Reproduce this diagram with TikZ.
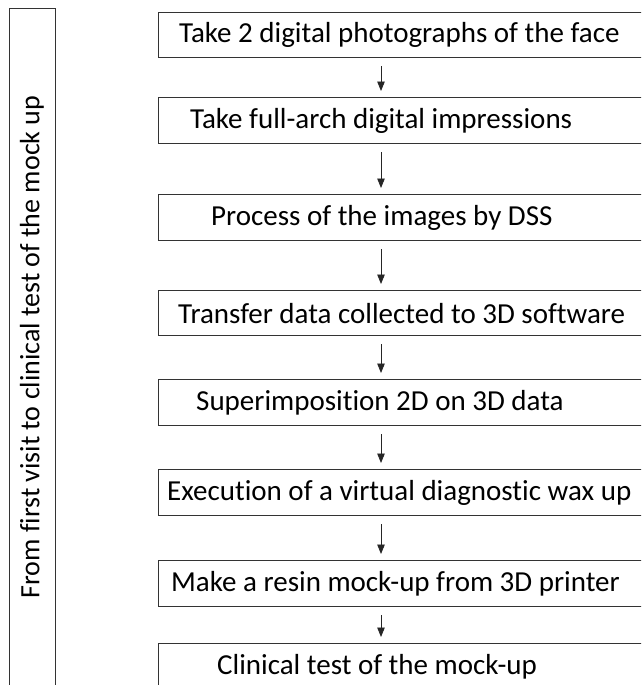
\documentclass[tikz,border=0pt]{standalone}
\usepackage{fontspec}
\setmainfont{Carlito}[Ligatures=NoCommon]
\usetikzlibrary{arrows.meta}
\tikzset{
  stepbox/.style={draw=black!80, line width=1.1pt, minimum width=520pt, anchor=north west, inner sep=0pt},
  steptext/.style={anchor=west, inner sep=0pt, font=\fontsize{29}{33}\selectfont},
  sidetextstyle/.style={inner sep=0pt, font=\fontsize{28}{32}\selectfont},
  flowarrow/.style={draw=black!85, line width=0.9pt, -{Triangle[width=7.5pt,length=9.5pt]}, shorten <=8pt, shorten >=6pt}
}
\begin{document}
\begin{tikzpicture}[x=1pt,y=-1pt]
\useasboundingbox (0,0) rectangle (641,685);
\clip (0,0) rectangle (641,685);
\fill[white] (0,0) rectangle (641,685);
% side box
\node[stepbox, minimum width=46pt, minimum height=700pt] (side) at (9,8) {};
\node[sidetextstyle, anchor=center, rotate=90] (sidetext) at (32,347) {From first visit to clinical test of the mock up};
% step boxes
\node[stepbox, minimum height=45pt] (b1) at (158,12) {};
\node[stepbox, minimum height=46pt] (b2) at (158,97) {};
\node[stepbox, minimum height=46pt] (b3) at (158,194) {};
\node[stepbox, minimum height=45pt] (b4) at (158,290) {};
\node[stepbox, minimum height=46pt] (b5) at (158,379) {};
\node[stepbox, minimum height=46pt] (b6) at (158,469) {};
\node[stepbox, minimum height=46pt] (b7) at (158,560) {};
\node[stepbox, minimum height=60pt] (b8) at (158,643) {};
% texts
\node[steptext] (t1) at ([xshift=21pt]b1.west) {Take 2 digital photographs of the face};
\node[steptext] (t2) at ([xshift=32pt]b2.west) {Take full-arch digital impressions};
\node[steptext] (t3) at ([xshift=53pt]b3.west) {Process of the images by DSS};
\node[steptext] (t4) at ([xshift=20pt]b4.west) {Transfer data collected to 3D software};
\node[steptext] (t5) at ([xshift=38pt]b5.west) {Superimposition 2D on 3D data};
\node[steptext] (t6) at ([xshift=9pt]b6.west) {Execution of a virtual diagnostic wax up};
\node[steptext] (t7) at ([xshift=13pt]b7.west) {Make a resin mock-up from 3D printer};
\node[steptext] (t8) at (217,667) {Clinical test of the mock-up};
% arrows
\coordinate (ax) at (381,0);
\draw[flowarrow] (b1.south -| ax) -- (b2.north -| ax);
\draw[flowarrow] (b2.south -| ax) -- (b3.north -| ax);
\draw[flowarrow] (b3.south -| ax) -- (b4.north -| ax);
\draw[flowarrow] (b4.south -| ax) -- (b5.north -| ax);
\draw[flowarrow] (b5.south -| ax) -- (b6.north -| ax);
\draw[flowarrow] (b6.south -| ax) -- (b7.north -| ax);
\draw[flowarrow] (b7.south -| ax) -- (b8.north -| ax);
\end{tikzpicture}
\end{document}
